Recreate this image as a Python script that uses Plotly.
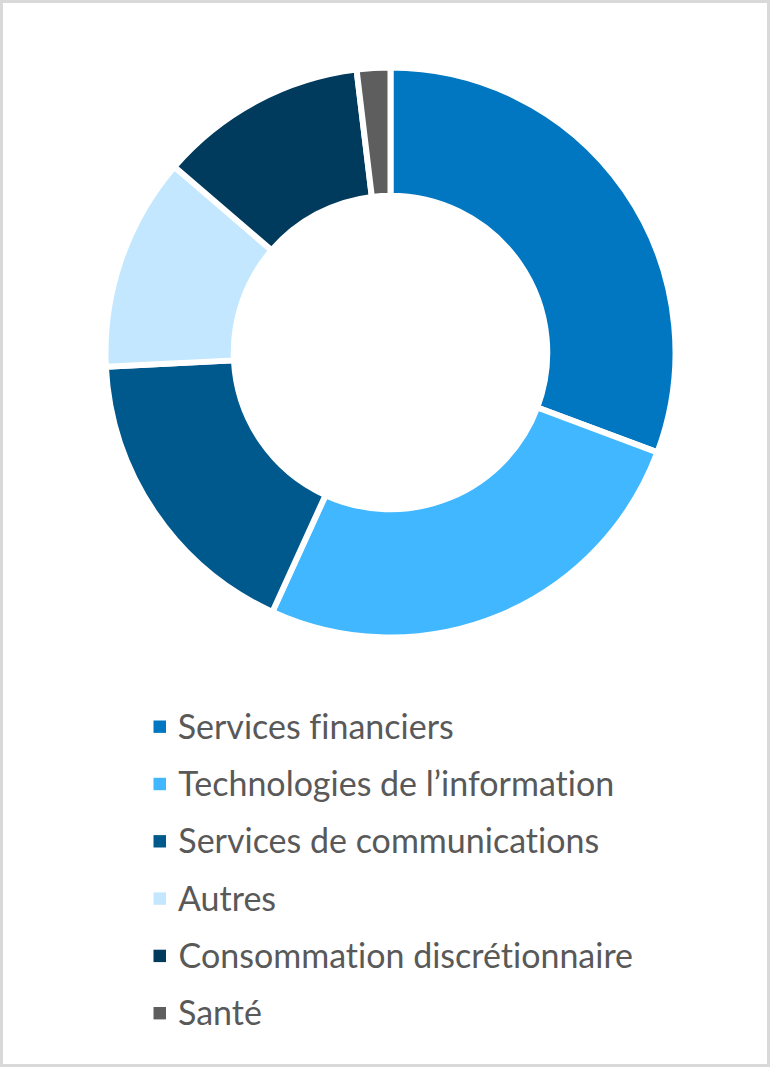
import plotly.graph_objects as go

labels = ["Services financiers", "Technologies de l’information", "Services de communications",
          "Autres", "Consommation discrétionnaire", "Santé"]
values = [30.7, 26.1, 17.4, 12.1, 11.8, 1.9]
colors = ["#0077C0", "#41B7FF", "#00598C", "#C2E7FF", "#003A5D", "#5E5E5E"]

W, H = 770, 1067

fig = go.Figure(go.Pie(
    labels=labels, values=values, sort=False, direction="clockwise", rotation=0,
    hole=0.55, textinfo="none", hoverinfo="label+percent",
    marker=dict(colors=colors, line=dict(color="white", width=6)),
    domain=dict(x=[105.5 / W, 675.5 / W], y=[1 - 637.5 / H, 1 - 67.5 / H]),
    showlegend=False,
))

# legend built manually from the data arrays
y0, dy = 726.7, 57.3
shapes = [dict(type="rect", xref="paper", yref="paper", x0=1.5 / W, x1=1 - 1.5 / W,
               y0=1.5 / H, y1=1 - 1.5 / H, line=dict(color="#D9D9D9", width=3))]
annotations = []
for i, (lab, col) in enumerate(zip(labels, colors)):
    cy = y0 + i * dy
    shapes.append(dict(type="rect", xref="paper", yref="paper",
                       x0=153.5 / W, x1=166 / W, y0=1 - (cy + 6.2) / H, y1=1 - (cy - 6.2) / H,
                       fillcolor=col, line=dict(width=0)))
    annotations.append(dict(text=lab, xref="paper", yref="paper", x=176 / W, y=1 - (cy - 1.5) / H,
                            xanchor="left", yanchor="middle", showarrow=False,
                            font=dict(family="Lato", size=34, color="#595959")))

fig.update_layout(width=W, height=H, margin=dict(l=0, r=0, t=0, b=0),
                  paper_bgcolor="white", shapes=shapes, annotations=annotations)
post = ("document.body.style.margin='0';document.body.style.overflow='hidden';"
        "var s=document.createElement('style');"
        "s.textContent='text{font-variant-ligatures:none !important;font-feature-settings:\"liga\" 0,\"clig\" 0 !important;}';"
        "document.head.appendChild(s);")
fig.write_html("out.html", config={"displayModeBar": False}, post_script=post)
